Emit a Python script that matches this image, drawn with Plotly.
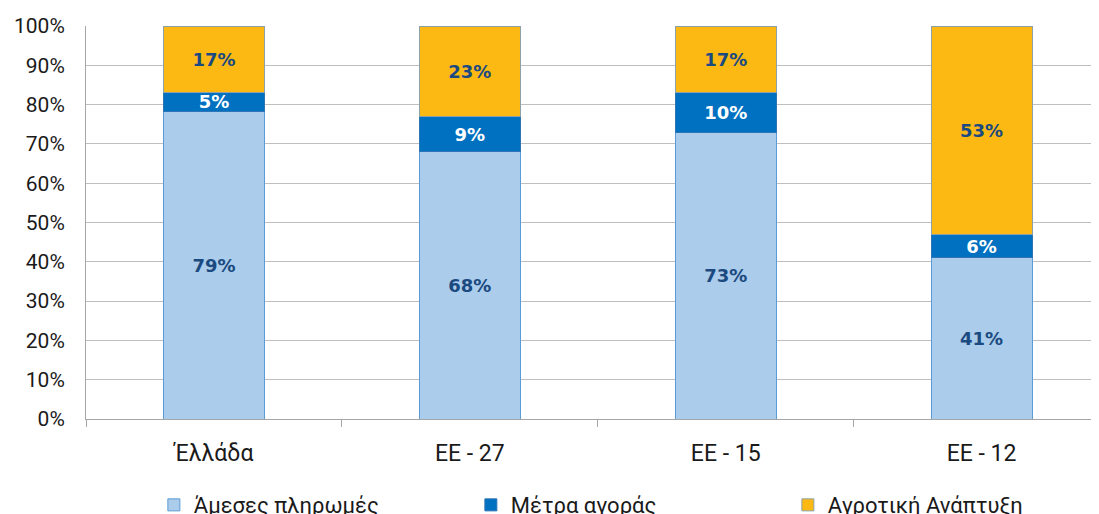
import plotly.graph_objects as go

categories = ["Έλλάδα"[0:0] + "Έ" + "λλάδα", "ΕΕ - 27", "ΕΕ - 15", "ΕΕ - 12"]
direct_payments = [79, 68, 73, 41]
market_measures = [5, 9, 10, 6]
rural_development = [17, 23, 17, 53]
series_names = ["Άμεσες πληρωμές", "Μέτρα αγοράς", "Αγροτική Ανάπτυξη"]
y_ticks = [0, 10, 20, 30, 40, 50, 60, 70, 80, 90, 100]

colors = ["#ABCCEB", "#0070C0", "#FDB913"]
line_colors = ["#5B9BD5", "#2E75B6", "#8FA1A8"]
text_colors = ["#1B4A80", "#FFFFFF", "#1B4A80"]

fig = go.Figure()
for name, vals, c, lc, tc in zip(series_names,
                                 [direct_payments, market_measures, rural_development],
                                 colors, line_colors, text_colors):
    fig.add_trace(go.Bar(
        x=categories, y=vals, name=name,
        marker=dict(color=c, line=dict(color=lc, width=1)),
        text=[f"{v}%" for v in vals],
        textposition="inside", insidetextanchor="middle",
        textfont=dict(family="DejaVu Sans", size=18, color=tc, weight="bold"),
        width=0.395,
    ))

fig.update_layout(
    barmode="stack", barnorm="percent",
    width=1091, height=506,
    margin=dict(l=78, r=0, t=18, b=95, autoexpand=False),
    plot_bgcolor="white", paper_bgcolor="white",
    font=dict(family="Roboto", size=21, color="#1a1a1a"),
    uniformtext=dict(minsize=16, mode="show"),
    showlegend=True,
    legend=dict(orientation="h", x=0.067, y=-0.219, xanchor="left", yanchor="middle",
                entrywidth=272, entrywidthmode="pixels",
                font=dict(family="Roboto", size=22, color="#1a1a1a"),
                traceorder="normal"),
)
fig.update_xaxes(
    range=[-0.5, 3.459], showline=True, linecolor="#A6A6A6", linewidth=1,
    ticks="outside", tickson="boundaries", ticklen=7, tickcolor="#A6A6A6",
    showgrid=False, ticklabelstandoff=13,
    tickfont=dict(family="Roboto", size=23, color="#1a1a1a"),
)
fig.update_yaxes(
    range=[0, 100], tickvals=y_ticks, ticktext=[f"{t}%" for t in y_ticks],
    showline=True, linecolor="#A6A6A6", linewidth=1,
    showgrid=True, gridcolor="#BFBFBF", gridwidth=1, zeroline=False,
    ticks="", ticklabelstandoff=16,
    tickfont=dict(family="Roboto", size=21, color="#1a1a1a"),
)

fig.write_html("out.html")
